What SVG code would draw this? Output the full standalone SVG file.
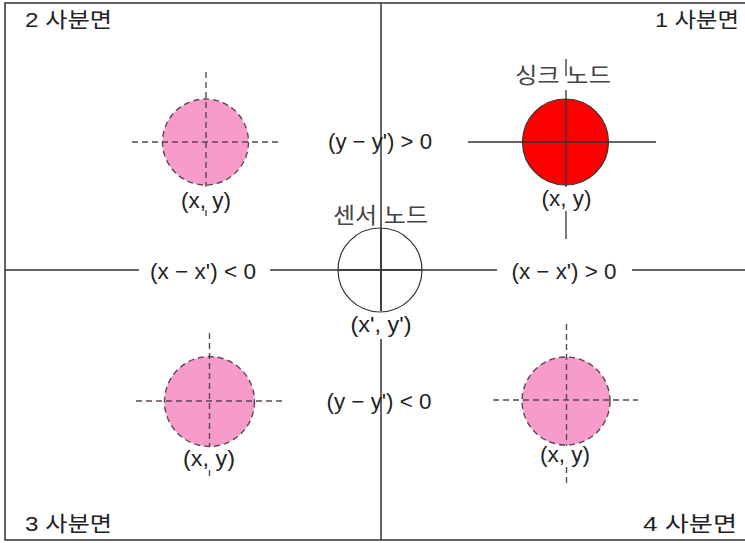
<svg xmlns="http://www.w3.org/2000/svg" width="745" height="543" viewBox="0 0 745 543">
<style>
text{font-family:"Liberation Sans","Noto Sans CJK KR",sans-serif;fill:#222;}
.lbl{font-size:22px;text-anchor:middle;}
.q{font-size:21px;}
.kr{font-size:22px;text-anchor:middle;fill:#444;}
.axis{stroke:#333;stroke-width:1.5;fill:none;}
.solid{stroke:#333;stroke-width:1.3;fill:none;}
.dash{stroke:#5a4652;stroke-width:1.4;stroke-dasharray:6 4;fill:none;}
</style>
<rect x="0" y="0" width="745" height="543" fill="#fff"/>
<rect x="5" y="3" width="760" height="537" fill="none" stroke="#333" stroke-width="1.5"/>

<g id="quadrant-labels">
<text class="q" x="25" y="27" textLength="87" lengthAdjust="spacingAndGlyphs">2 사분면</text>
<text class="q" x="655" y="27" textLength="84" lengthAdjust="spacingAndGlyphs">1 사분면</text>
<text class="q" x="25" y="531" textLength="87" lengthAdjust="spacingAndGlyphs">3 사분면</text>
<text class="q" x="643" y="531" textLength="94" lengthAdjust="spacingAndGlyphs">4 사분면</text>
</g>

<g id="connectors">
<line class="axis" x1="5" y1="270" x2="139" y2="270"/>
<line class="axis" x1="270" y1="270" x2="497" y2="270"/>
<line class="axis" x1="632" y1="270" x2="745" y2="270"/>
<line class="axis" x1="381" y1="3" x2="381" y2="311"/>
<line class="axis" x1="381" y1="339" x2="381" y2="540"/>
</g>

<g id="sensor-node">
<circle cx="380" cy="270" r="42" fill="none" stroke="#333" stroke-width="1.2"/>
<line class="axis" x1="338" y1="270" x2="422" y2="270"/>
<line class="axis" x1="381" y1="228" x2="381" y2="311"/>
<text class="kr" x="380.5" y="223" textLength="95" lengthAdjust="spacingAndGlyphs">센서 노드</text>
<text class="lbl" x="381" y="332" textLength="61" lengthAdjust="spacingAndGlyphs">(x', y')</text>
</g>

<g id="axis-labels">
<text class="lbl" x="380" y="149" textLength="104" lengthAdjust="spacingAndGlyphs">(y − y') &gt; 0</text>
<text class="lbl" x="379" y="409" textLength="105" lengthAdjust="spacingAndGlyphs">(y − y') &lt; 0</text>
<text class="lbl" x="203" y="279" textLength="106" lengthAdjust="spacingAndGlyphs">(x − x') &lt; 0</text>
<text class="lbl" x="564" y="279" textLength="105" lengthAdjust="spacingAndGlyphs">(x − x') &gt; 0</text>
</g>

<g id="sink-node">
<circle cx="565.5" cy="142" r="43" fill="#FF0000" stroke="#333" stroke-width="1.2"/>
<line class="solid" x1="468" y1="142" x2="656" y2="142"/>
<line class="solid" x1="566" y1="59" x2="566" y2="76"/>
<line class="solid" x1="566" y1="90" x2="566" y2="187"/>
<line class="solid" x1="566" y1="211" x2="566" y2="239"/>
<text class="kr" x="563" y="83" textLength="96" lengthAdjust="spacingAndGlyphs">싱크 노드</text>
<text class="lbl" x="566.5" y="206" textLength="50" lengthAdjust="spacingAndGlyphs">(x, y)</text>
</g>

<g id="node-q2">
<circle class="dash" cx="205.5" cy="142" r="43" style="fill:#F79BCB"/>
<line class="dash" x1="132" y1="142" x2="278" y2="142"/>
<line class="dash" x1="206" y1="72" x2="206" y2="187"/>
<line class="dash" x1="206" y1="210" x2="206" y2="217"/>
<text class="lbl" x="206" y="208" textLength="50" lengthAdjust="spacingAndGlyphs">(x, y)</text>
</g>

<g id="node-q3">
<circle class="dash" cx="209.5" cy="401.5" r="45" style="fill:#F79BCB"/>
<line class="dash" x1="136" y1="401" x2="282" y2="401"/>
<line class="dash" x1="209.5" y1="333" x2="209.5" y2="447"/>
<line class="dash" x1="209.5" y1="470" x2="209.5" y2="476"/>
<text class="lbl" x="209" y="466" textLength="52" lengthAdjust="spacingAndGlyphs">(x, y)</text>
</g>

<g id="node-q4">
<circle class="dash" cx="566" cy="401" r="44" style="fill:#F79BCB"/>
<line class="dash" x1="493" y1="400" x2="638" y2="400"/>
<line class="dash" x1="566.5" y1="324" x2="566.5" y2="446"/>
<line class="dash" x1="566.5" y1="467" x2="566.5" y2="486"/>
<text class="lbl" x="565" y="462" textLength="50" lengthAdjust="spacingAndGlyphs">(x, y)</text>
</g>
</svg>
